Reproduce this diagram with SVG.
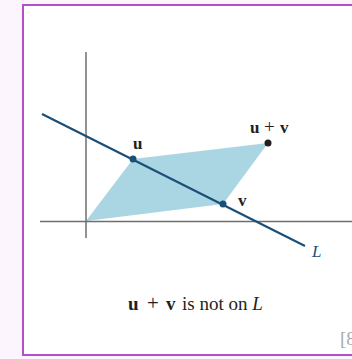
<svg xmlns="http://www.w3.org/2000/svg" width="352" height="359" viewBox="0 0 352 359">
<style>
.lbl{font-family:"Liberation Serif","Times New Roman",serif;fill:#231f20}
.b{font-weight:bold}
.axis{stroke:#6d6e71;stroke-width:1.5;fill:none}
.lineL{stroke:#1b4f78;stroke-width:2.2;fill:none}
.dot{fill:#1b4f78}
</style>
<rect x="0" y="0" width="352" height="359" fill="#fdf5fd"/>
<rect x="23" y="5" width="340" height="350" fill="#ffffff" stroke="#b44fc8" stroke-width="2"/>
<g id="parallelogram">
<polygon points="86,221 133,159 268,143 223,204" fill="#aad5e2"/>
</g>
<g id="axes">
<line class="axis" x1="86" y1="52" x2="86" y2="238"/>
<line class="axis" x1="40" y1="221.5" x2="352" y2="221.5"/>
</g>
<g id="connectors">
<line class="lineL" x1="42" y1="114" x2="305" y2="246"/>
</g>
<g id="node-u">
<circle class="dot" cx="133" cy="159" r="3.5"/>
<text class="lbl b" x="133" y="149" font-size="17">u</text>
</g>
<g id="node-v">
<circle class="dot" cx="223" cy="204" r="3.5"/>
<text class="lbl b" x="238" y="206" font-size="17">v</text>
</g>
<g id="node-uv">
<circle cx="268" cy="143" r="3.5" fill="#231f20"/>
<text class="lbl b" x="250" y="133" font-size="17">u<tspan font-weight="normal" font-size="19" x="264">+</tspan><tspan x="280">v</tspan></text>
</g>
<g id="label-L">
<text class="lbl" x="312" y="257" font-size="17" font-style="italic" style="fill:#1b4f78">L</text>
</g>
<g id="caption">
<text class="lbl" x="128" y="310" font-size="19"><tspan class="b">u</tspan><tspan x="147" font-size="21">+</tspan><tspan class="b" x="166">v</tspan><tspan x="182">is not on </tspan><tspan font-style="italic">L</tspan></text>
</g>
<text class="lbl" x="340" y="345" font-size="19" style="fill:#a7a9ac">[8</text>
</svg>
